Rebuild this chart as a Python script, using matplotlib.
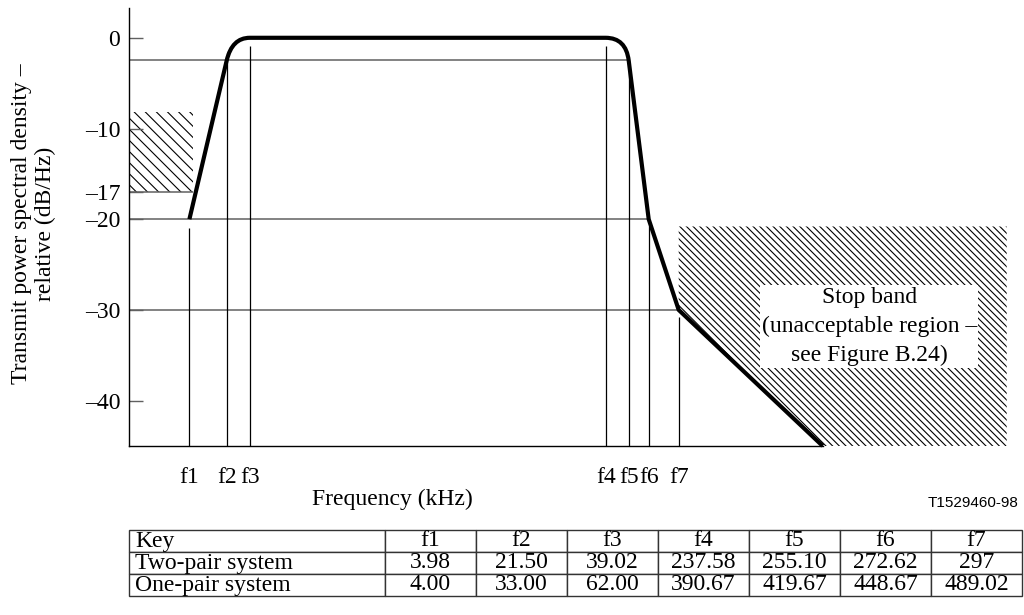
import matplotlib
matplotlib.use('Agg')
import matplotlib.pyplot as plt
from matplotlib.path import Path
from matplotlib.patches import PathPatch, Polygon, Rectangle

plt.rcParams['font.family'] = ['Liberation Serif', 'DejaVu Serif']
plt.rcParams['hatch.linewidth'] = 0.8
plt.rcParams['hatch.color'] = 'black'

# ---- data (schematic positions; axis is not to scale) ----
freq_labels = ['f1', 'f2', 'f3', 'f4', 'f5', 'f6', 'f7']
freq_pos = [60.7, 98, 121, 477, 500, 520, 550]          # schematic x positions
x_end = 694                                            # end of mask / axis
level_f1 = -20
level_knee = -2.5
level_top = 0
level_f6 = -20
level_f7 = -30
level_end = -45
vline_top = [-21, -1.7, -0.9, -0.9, -2.5, -20.8, -30.8]
hline_levels = [-2.5, -17, -20, -30]
hline_ends = [500, 64.7, 520, 550]
ytick_vals = [0, -10, -17, -20, -30, -40]
ytick_labels = ['0', '–10', '–17', '–20', '–30', '–40']
inband_hatch = (-17, -8.2, 64)        # bottom, top, right edge
stop_top = -20.8
stop_right = 878

table_header = ['Key', 'f1', 'f2', 'f3', 'f4', 'f5', 'f6', 'f7']
two_pair = ['3.98', '21.50', '39.02', '237.58', '255.10', '272.62', '297']
one_pair = ['4.00', '33.00', '62.00', '390.67', '419.67', '448.67', '489.02']

FS = 17
W, H = 1024, 615
fig = plt.figure(figsize=(W / 100, H / 100), dpi=100)
ax = fig.add_axes([128.7 / W, (H - 446) / H, 885 / W, 437.6 / H])
ax.set_xlim(0, 885)
ax.set_ylim(level_end, 3.24)

for s in ['top', 'right']:
    ax.spines[s].set_visible(False)
ax.spines['bottom'].set_bounds(0, x_end)
for s in ['left', 'bottom']:
    ax.spines[s].set_linewidth(1.0)
    ax.spines[s].set_color('black')

# hatched regions
ax.add_patch(Rectangle((0, inband_hatch[0]), inband_hatch[2], inband_hatch[1] - inband_hatch[0],
                       fill=False, hatch='\\\\\\', edgecolor='black', linewidth=0))
stop_poly = [(freq_pos[6], stop_top), (stop_right, stop_top), (stop_right, level_end),
             (x_end, level_end), (freq_pos[6], level_f7)]
ax.add_patch(Polygon(stop_poly, closed=True, fill=False, hatch='\\\\\\\\\\',
                     edgecolor='black', linewidth=0))

# reference lines
ax.hlines(hline_levels, 0, hline_ends, colors='#606060', linewidth=1.1)
ax.vlines(freq_pos, level_end, vline_top, colors='black', linewidth=0.9)

# mask curve
f1, f2, f3, f4, f5, f6, f7 = freq_pos
c1 = f2 + (level_top - level_knee) * (f2 - f1) / (level_knee - level_f1)
c2 = f5 - (level_top - level_knee) * (f6 - f5) / (level_knee - level_f6)
verts = [(f1, level_f1), (f2, level_knee), (c1, level_top), (f3, level_top),
         (f4, level_top), (c2, level_top), (f5, level_knee),
         (f6, level_f6), (f7, level_f7), (x_end, level_end)]
codes = [Path.MOVETO, Path.LINETO, Path.CURVE3, Path.CURVE3,
         Path.LINETO, Path.CURVE3, Path.CURVE3,
         Path.LINETO, Path.LINETO, Path.LINETO]
ax.add_patch(PathPatch(Path(verts, codes), fill=False, linewidth=3.0,
                       edgecolor='black', capstyle='butt', joinstyle='round',
                       clip_on=False, zorder=5))

# stop band text
ax.text(740.5, -31.84, 'Stop band\n(unacceptable region –\nsee Figure B.24)',
        ha='center', va='center', multialignment='center', fontsize=FS,
        linespacing=1.5, bbox=dict(facecolor='white', edgecolor='none', pad=1),
        zorder=4)

# ticks
ax.set_yticks(ytick_vals, ytick_labels)
ax.tick_params(axis='y', direction='in', length=10, width=1, color='#606060',
               labelsize=FS, pad=6)
ax.set_xticks(freq_pos, freq_labels)
ax.tick_params(axis='x', length=0, labelsize=FS, pad=15)

fig.text(392.5 / W, (H - 505) / H, 'Frequency (kHz)', ha='center', va='baseline', fontsize=FS)
fig.text(33.5 / W, 1 - 224 / H, 'Transmit power spectral density –\nrelative (dB/Hz)',
         rotation=90, ha='center', va='center', multialignment='center', fontsize=FS)
fig.text(1018 / W, 1 - 503 / H, 'T1529460-98', ha='right', va='center',
         fontsize=11, family='Liberation Sans')

# key table
tax = fig.add_axes([129 / W, (H - 596) / H, 893 / W, 66 / H])
tax.axis('off')
cw = [256] + [91] * 7
tot = sum(cw)
tbl = tax.table(cellText=[table_header, ['Two-pair system'] + two_pair,
                          ['One-pair system'] + one_pair],
                colWidths=[c / tot for c in cw], cellLoc='center',
                bbox=[0, 0, 1, 1])
tbl.auto_set_font_size(False)
for (r, c), cell in tbl.get_celld().items():
    cell.set_edgecolor('#333333')
    cell.set_linewidth(1.0)
    cell.get_text().set_fontsize(FS)
    cell.get_text().set_fontfamily(['Liberation Serif'])
    if c == 0:
        cell.get_text().set_ha('left')
        cell.PAD = 0.025
        cell._loc = 'left'

fig.savefig('out.png', dpi=100)
